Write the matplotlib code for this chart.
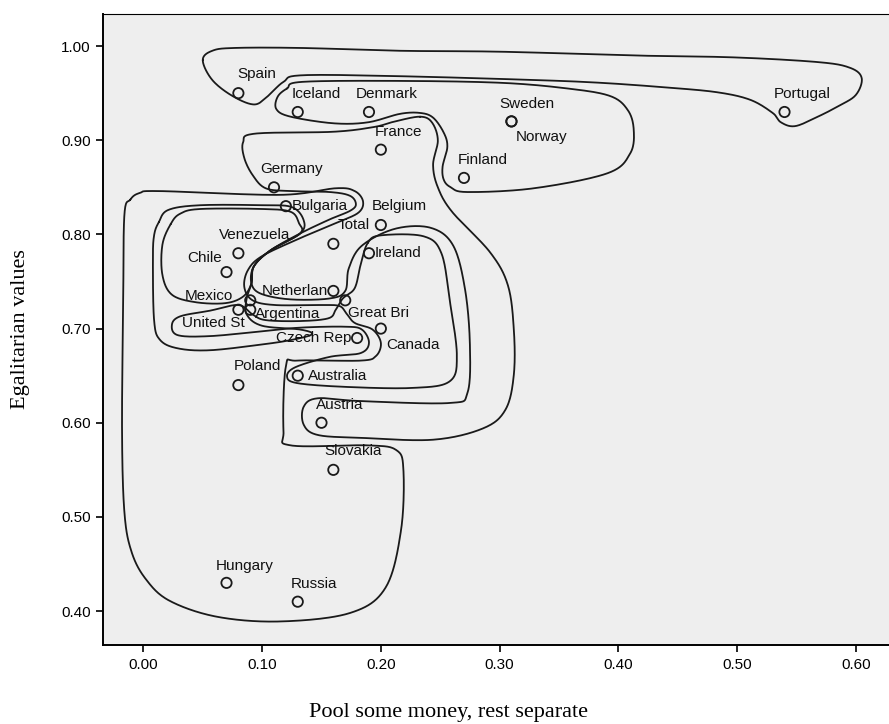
import numpy as np
import matplotlib
matplotlib.use("Agg")
import matplotlib.pyplot as plt

# countries as labelled in the chart
countries = ["Spain", "Iceland", "Denmark", "France", "Sweden", "Norway", "Finland",
             "Portugal", "Germany", "Bulgaria", "Belgium", "Total", "Venezuela",
             "Ireland", "Chile", "Netherlan", "Mexico", "Argentina", "United St",
             "Great Bri", "Canada", "Czech Rep", "Poland", "Australia", "Austria",
             "Slovakia", "Hungary", "Russia"]
pool = [0.08, 0.13, 0.19, 0.20, 0.31, 0.31, 0.27,
        0.54, 0.11, 0.12, 0.20, 0.16, 0.08,
        0.19, 0.07, 0.16, 0.09, 0.09, 0.08,
        0.17, 0.20, 0.18, 0.08, 0.13, 0.15,
        0.16, 0.07, 0.13]
egal = [0.95, 0.93, 0.93, 0.89, 0.92, 0.92, 0.86,
        0.93, 0.85, 0.83, 0.81, 0.79, 0.78,
        0.78, 0.76, 0.74, 0.73, 0.72, 0.72,
        0.73, 0.70, 0.69, 0.64, 0.65, 0.60,
        0.55, 0.43, 0.41]

# label placement: (dx, dy) in pixels from the point, horizontal alignment
label_pos = {
    "Spain": (-1, 19, "left"), "Iceland": (-6, 18, "left"), "Denmark": (-13, 18, "left"),
    "France": (-6, 18, "left"), "Sweden": (-12, 17, "left"), "Norway": (4, -16, "left"),
    "Finland": (-6, 18, "left"), "Portugal": (-11, 18, "left"), "Germany": (-14, 18, "left"),
    "Bulgaria": (6, 0, "left"), "Belgium": (-9, 19, "left"), "Total": (4, 19, "left"),
    "Venezuela": (-19, 18, "left"), "Ireland": (6, 0, "left"), "Chile": (-5, 14, "right"),
    "Netherlan": (-5, 0, "right"), "Mexico": (-17, 4, "right"), "Argentina": (5, -4, "left"),
    "United St": (-56, -13, "left"), "Great Bri": (3, -13, "left"), "Canada": (5, -16, "left"),
    "Czech Rep": (-6, 0, "right"), "Poland": (-5, 19, "left"), "Australia": (10, 0, "left"),
    "Austria": (-6, 18, "left"), "Slovakia": (-9, 19, "left"), "Hungary": (-11, 17, "left"),
    "Russia": (-7, 18, "left"),
}

# hand drawn cluster outlines (data coordinates)
outline_spain_portugal = [
    (0.050, 0.985), (0.058, 0.995), (0.077, 0.998), (0.132, 0.998), (0.216, 0.995),
    (0.301, 0.994), (0.413, 0.990), (0.497, 0.988), (0.568, 0.983), (0.595, 0.977),
    (0.605, 0.966), (0.600, 0.948), (0.585, 0.936), (0.568, 0.925), (0.549, 0.915),
    (0.537, 0.919), (0.530, 0.929), (0.511, 0.943), (0.483, 0.951), (0.441, 0.956),
    (0.385, 0.961), (0.328, 0.964), (0.216, 0.968), (0.134, 0.969), (0.118, 0.962),
    (0.104, 0.946), (0.093, 0.938), (0.075, 0.947), (0.058, 0.964)]
outline_nordic = [
    (0.121, 0.955), (0.134, 0.962), (0.216, 0.963), (0.301, 0.961), (0.357, 0.955),
    (0.393, 0.947), (0.408, 0.932), (0.413, 0.911), (0.410, 0.886), (0.391, 0.865),
    (0.329, 0.849), (0.273, 0.845), (0.259, 0.850), (0.253, 0.858), (0.252, 0.872),
    (0.256, 0.893), (0.253, 0.908), (0.244, 0.924), (0.233, 0.929), (0.216, 0.928),
    (0.189, 0.919), (0.160, 0.918), (0.124, 0.925), (0.112, 0.933), (0.113, 0.946)]
outline_france = [
    (0.233, 0.925), (0.212, 0.920), (0.194, 0.914), (0.160, 0.909), (0.094, 0.907),
    (0.084, 0.898), (0.085, 0.881), (0.092, 0.863), (0.103, 0.849), (0.124, 0.846),
    (0.157, 0.845), (0.174, 0.841), (0.179, 0.832), (0.174, 0.825), (0.157, 0.816),
    (0.132, 0.801), (0.107, 0.783), (0.093, 0.766), (0.091, 0.748), (0.099, 0.737),
    (0.124, 0.731), (0.157, 0.732), (0.170, 0.740), (0.173, 0.764), (0.184, 0.788),
    (0.212, 0.806), (0.242, 0.807), (0.261, 0.788), (0.271, 0.741), (0.275, 0.683),
    (0.273, 0.632), (0.258, 0.621), (0.183, 0.623), (0.147, 0.626), (0.135, 0.617),
    (0.135, 0.598), (0.147, 0.587), (0.183, 0.584), (0.244, 0.582), (0.286, 0.594),
    (0.305, 0.614), (0.312, 0.651), (0.312, 0.699), (0.307, 0.746), (0.292, 0.781),
    (0.260, 0.824), (0.248, 0.850), (0.244, 0.874), (0.248, 0.900), (0.243, 0.919)]
outline_outer = [
    (-0.011, 0.837), (-0.003, 0.844), (0.014, 0.846), (0.115, 0.842), (0.162, 0.849),
    (0.178, 0.846), (0.185, 0.835), (0.181, 0.823), (0.162, 0.812), (0.132, 0.796),
    (0.100, 0.777), (0.088, 0.762), (0.085, 0.744), (0.092, 0.730), (0.111, 0.725),
    (0.149, 0.725), (0.165, 0.724), (0.171, 0.716), (0.178, 0.706), (0.193, 0.699),
    (0.200, 0.685), (0.196, 0.671), (0.183, 0.666), (0.130, 0.666), (0.120, 0.660),
    (0.118, 0.592), (0.124, 0.576), (0.189, 0.576), (0.213, 0.571), (0.219, 0.550),
    (0.217, 0.486), (0.204, 0.425), (0.174, 0.398), (0.115, 0.389), (0.062, 0.394),
    (0.022, 0.411), (0.002, 0.434), (-0.010, 0.463), (-0.016, 0.505), (-0.018, 0.592),
    (-0.017, 0.730), (-0.016, 0.821)]
outline_ireland = [
    (0.189, 0.791), (0.200, 0.799), (0.236, 0.798), (0.251, 0.780), (0.258, 0.730),
    (0.264, 0.672), (0.258, 0.644), (0.227, 0.637), (0.172, 0.638), (0.130, 0.642),
    (0.121, 0.649), (0.128, 0.659), (0.157, 0.670), (0.183, 0.674), (0.190, 0.685),
    (0.184, 0.699), (0.170, 0.702), (0.132, 0.701), (0.099, 0.697), (0.056, 0.692),
    (0.029, 0.693), (0.024, 0.704), (0.031, 0.713), (0.056, 0.719), (0.080, 0.725),
    (0.092, 0.715), (0.103, 0.709), (0.132, 0.708), (0.156, 0.711), (0.162, 0.720),
    (0.168, 0.732), (0.178, 0.743), (0.183, 0.768)]
outline_chile = [
    (0.023, 0.811), (0.031, 0.822), (0.048, 0.827), (0.100, 0.827), (0.124, 0.824),
    (0.131, 0.812), (0.132, 0.801), (0.107, 0.783), (0.093, 0.766), (0.091, 0.748),
    (0.084, 0.734), (0.069, 0.727), (0.044, 0.728), (0.024, 0.736), (0.016, 0.757),
    (0.016, 0.789)]
outline_latin = [
    (0.013, 0.813), (0.021, 0.826), (0.048, 0.831), (0.100, 0.831), (0.125, 0.829),
    (0.135, 0.815), (0.132, 0.801), (0.107, 0.783), (0.093, 0.766), (0.091, 0.748),
    (0.087, 0.732), (0.087, 0.715), (0.100, 0.703), (0.132, 0.699), (0.142, 0.694),
    (0.125, 0.688), (0.099, 0.683), (0.056, 0.677), (0.029, 0.679), (0.014, 0.688),
    (0.009, 0.709), (0.008, 0.773), (0.009, 0.799)]

outlines = [outline_spain_portugal, outline_nordic, outline_france, outline_outer,
            outline_ireland, outline_chile, outline_latin]


def smooth_closed(pts, n=24):
    # closed catmull-rom spline through the outline vertices
    P = np.asarray(pts, dtype=float)
    N = len(P)
    t = np.linspace(0, 1, n, endpoint=False)[:, None]
    segs = []
    for i in range(N):
        p0, p1, p2, p3 = P[i - 1], P[i], P[(i + 1) % N], P[(i + 2) % N]
        segs.append(0.5 * (2 * p1 + (-p0 + p2) * t
                           + (2 * p0 - 5 * p1 + 4 * p2 - p3) * t ** 2
                           + (-p0 + 3 * p1 - 3 * p2 + p3) * t ** 3))
    out = np.vstack(segs)
    return np.vstack([out, out[:1]])


fig = plt.figure(figsize=(8.89, 7.24), dpi=100)
ax = fig.add_axes([0.1159, 0.1091, 0.8841, 0.8715])
ax.set_facecolor("#eeeeee")

for o in outlines:
    xy = smooth_closed(o)
    ax.plot(xy[:, 0], xy[:, 1], color="#1a1a1a", lw=1.3, zorder=2, solid_capstyle="round")

ax.scatter(pool, egal, s=55, facecolors="none", edgecolors="#1a1a1a", linewidths=1.3, zorder=3)

for name, x, y in zip(countries, pool, egal):
    dx, dy, ha = label_pos[name]
    ax.annotate(name, (x, y), xytext=(dx, dy), textcoords="offset pixels",
                ha=ha, va="center", fontsize=11, family="Liberation Sans",
                color="#111111", zorder=4)

ax.set_xlim(-0.034, 0.628)
ax.set_ylim(0.364, 1.034)
ax.set_xticks(np.arange(0, 0.61, 0.1))
ax.set_yticks(np.arange(0.4, 1.01, 0.1))
ax.set_xticklabels(["%.2f" % v for v in np.arange(0, 0.61, 0.1)])
ax.set_yticklabels(["%.2f" % v for v in np.arange(0.4, 1.01, 0.1)])
ax.tick_params(direction="out", length=5, width=1.2, labelsize=11, pad=4)
for lab in ax.get_xticklabels() + ax.get_yticklabels():
    lab.set_family("Liberation Sans")
ax.spines["right"].set_visible(False)
ax.spines["left"].set_linewidth(1.4)
ax.spines["bottom"].set_linewidth(1.4)
ax.spines["top"].set_linewidth(0.8)

ax.set_xlabel("Pool some money, rest separate", family="Liberation Serif", fontsize=16)
ax.xaxis.set_label_coords(0.44, -0.092)
ax.set_ylabel("Egalitarian values", family="Liberation Serif", fontsize=16, labelpad=22)

fig.savefig("out.png", dpi=100)
